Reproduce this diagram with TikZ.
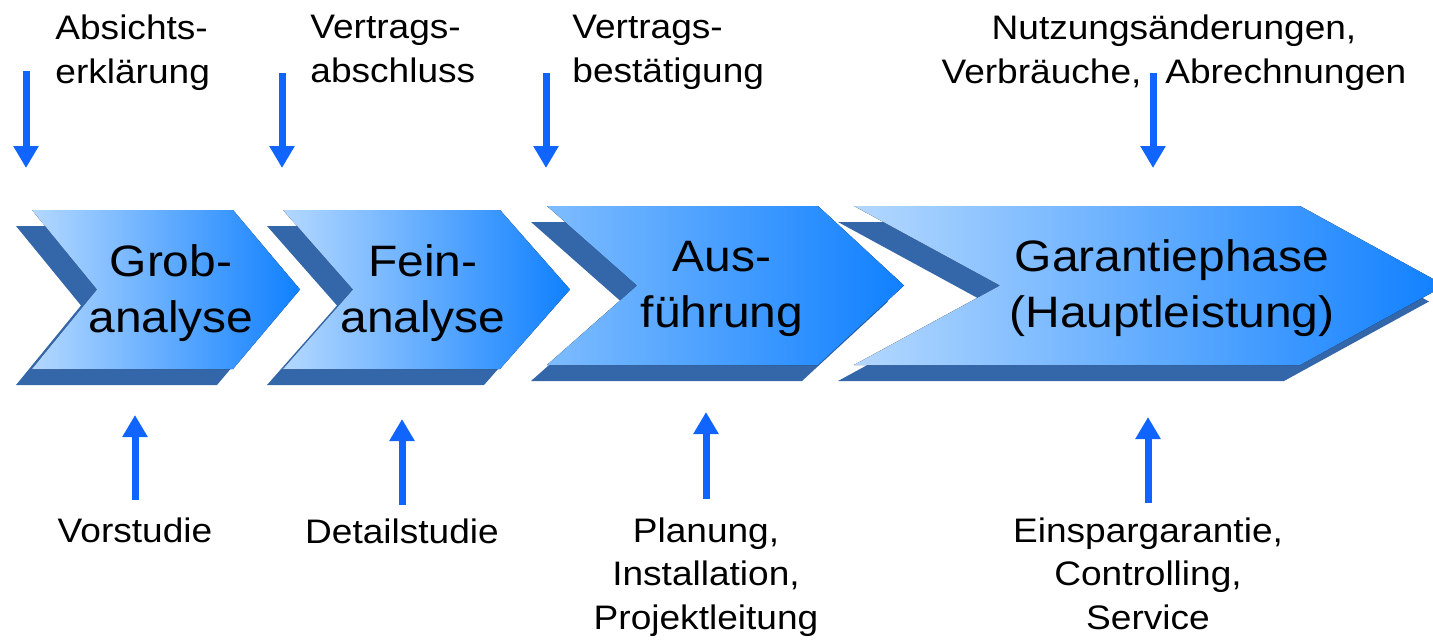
\documentclass[tikz,border=0pt]{standalone}
\usepackage{fontspec}
\setmainfont{Liberation Sans}[FakeStretch=1.09]
\usetikzlibrary{positioning}
\usetikzlibrary{arrows.meta}

\definecolor{chevdark}{RGB}{52,102,170}
\definecolor{chevlight}{RGB}{180,216,255}
\definecolor{chevmid}{RGB}{126,188,255}
\definecolor{chevdeep}{RGB}{16,128,255}
\definecolor{arrowblue}{RGB}{16,100,255}

\begin{document}
\begin{tikzpicture}[
x=0.5pt, y=0.5pt,
shadowpart/.style={fill=chevdark},
frontpart/.style={left color=chevlight, right color=chevdeep},
phasetext/.style={align=center, inner sep=0pt, font=\fontsize{22}{28}\selectfont},
toplabel/.style={align=left, inner sep=0pt, font=\fontsize{17}{22}\selectfont},
bottomlabel/.style={align=center, inner sep=0pt, font=\fontsize{17}{21.75}\selectfont},
bluearrow/.style={draw=arrowblue, line width=3.5pt, -{Triangle[width=12pt,length=11pt]}},
]
\clip (0,0) rectangle (1433,639);

% Phase chevrons, each with its shadow
\fill[shadowpart, shift={(-16,-16)}] (32,429) -- (233,429) -- (300,349.5) -- (233,270) -- (32,270) -- (97,349.5) -- cycle;
\fill[frontpart] (32,429) -- (233,429) -- (300,349.5) -- (233,270) -- (32,270) -- (97,349.5) -- cycle;
\fill[shadowpart, shift={(-16,-16)}] (283,429) -- (500,429) -- (570,349.5) -- (500,270) -- (283,270) -- (353,349.5) -- cycle;
\fill[frontpart] (283,429) -- (500,429) -- (570,349.5) -- (500,270) -- (283,270) -- (353,349.5) -- cycle;
\fill[shadowpart, shift={(-16,-16)}] (547,433) -- (818,433) -- (904,353.5) -- (818,274) -- (547,274) -- (637,353.5) -- cycle;
\fill[frontpart, left color=chevmid] (547,433) -- (818,433) -- (904,353.5) -- (818,274) -- (547,274) -- (637,353.5) -- cycle;
\fill[shadowpart, shift={(-16,-16)}] (854,433) -- (1300,433) -- (1445,353.5) -- (1300,274) -- (854,274) -- (1000,353.5) -- cycle;
\fill[frontpart] (854,433) -- (1300,433) -- (1445,353.5) -- (1300,274) -- (854,274) -- (1000,353.5) -- cycle;

% Phase names
\node[phasetext] (grob)     at (171,345.4)  {Grob-\\analyse};
\node[phasetext] (fein)     at (423,345.4)  {Fein-\\analyse};
\node[phasetext] (aus)      at (722,350)    {Aus-\\führung};
\node[phasetext] (garantie) at (1172,350.5) {Garantiephase\\(Hauptleistung)};

% Milestones above
\node[toplabel, anchor=north west] (absicht)      at (55,624.5)  {Absichts-\\erklärung};
\node[toplabel, anchor=north west] (abschluss)    at (310,624.5) {Vertrags-\\abschluss};
\node[toplabel, anchor=north west] (bestaetigung) at (572,624.5) {Vertrags-\\bestätigung};
\node[toplabel, align=center, anchor=north] (nutzung) at (1174,625) {Nutzungsänderungen,\\Verbräuche,\hspace{0.4em} Abrechnungen};

\coordinate (t1s) at (26,568);
\coordinate (t1e) at (26,471);
\coordinate (t2s) at (282,566);
\coordinate (t2e) at (282,471);
\coordinate (t3s) at (546,566);
\coordinate (t3e) at (546,471);
\coordinate (t4s) at (1153,566);
\coordinate (t4e) at (1153,471);

\draw[bluearrow] (t1s) -- (t1e);
\draw[bluearrow] (t2s) -- (t2e);
\draw[bluearrow] (t3s) -- (t3e);
\draw[bluearrow] (t4s) -- (t4e);

% Work contents below
\coordinate (b1s) at (135,139);
\coordinate (b1e) at (135,224);
\coordinate (b2s) at (402,134);
\coordinate (b2e) at (402,220);
\coordinate (b3s) at (706,140);
\coordinate (b3e) at (706,227);
\coordinate (b4s) at (1148,136);
\coordinate (b4e) at (1148,222);

\node[bottomlabel] (vorstudie)    [below=8.5pt of b1s] {Vorstudie};
\node[bottomlabel] (detailstudie) [below=6.5pt of b2s] {Detailstudie};
\node[bottomlabel] (planung)      [below=9pt of b3s]   {Planung,\\Installation,\\Projektleitung};
\node[bottomlabel] (einspar)      [below=7pt of b4s]   {Einspargarantie,\\Controlling,\\Service};

\draw[bluearrow] (b1s) -- (b1e);
\draw[bluearrow] (b2s) -- (b2e);
\draw[bluearrow] (b3s) -- (b3e);
\draw[bluearrow] (b4s) -- (b4e);
\end{tikzpicture}
\end{document}
